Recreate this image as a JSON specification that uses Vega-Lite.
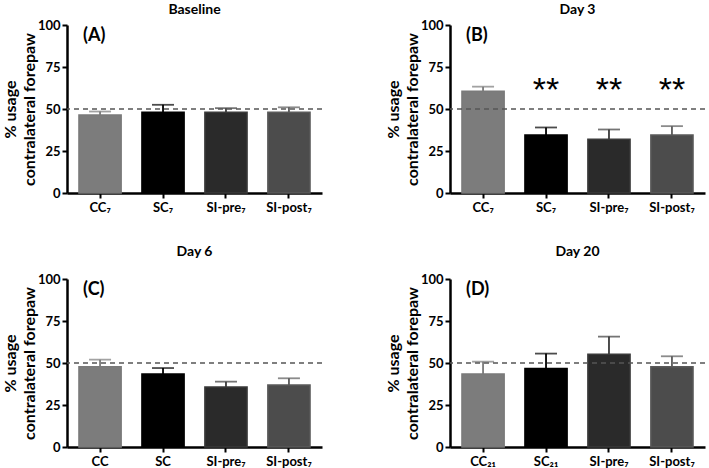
{
  "$schema": "https://vega.github.io/schema/vega-lite/v6.json",
  "padding": {"left": 2, "top": 3, "right": 4, "bottom": 0},
  "background": "white",
  "datasets": {
    "bars": [
      {"panel": "A", "group": "CC₇", "grp": "cc", "mean": 46.5, "upper": 48.5},
      {"panel": "A", "group": "SC₇", "grp": "sc", "mean": 48, "upper": 52.5},
      {"panel": "A", "group": "SI-pre₇", "grp": "pre", "mean": 48, "upper": 50.5},
      {"panel": "A", "group": "SI-post₇", "grp": "post", "mean": 48, "upper": 51},
      {"panel": "B", "group": "CC₇", "grp": "cc", "mean": 60.5, "upper": 63.3},
      {"panel": "B", "group": "SC₇", "grp": "sc", "mean": 34.5, "upper": 39},
      {"panel": "B", "group": "SI-pre₇", "grp": "pre", "mean": 32, "upper": 37.8},
      {"panel": "B", "group": "SI-post₇", "grp": "post", "mean": 34.5, "upper": 39.8},
      {"panel": "C", "group": "CC", "grp": "cc", "mean": 47.8, "upper": 52},
      {"panel": "C", "group": "SC", "grp": "sc", "mean": 43.5, "upper": 47},
      {"panel": "C", "group": "SI-pre₇", "grp": "pre", "mean": 35.7, "upper": 38.9},
      {"panel": "C", "group": "SI-post₇", "grp": "post", "mean": 36.9, "upper": 40.9},
      {"panel": "D", "group": "CC₂₁", "grp": "cc", "mean": 43.5, "upper": 50.8},
      {"panel": "D", "group": "SC₂₁", "grp": "sc", "mean": 46.8, "upper": 55.6},
      {"panel": "D", "group": "SI-pre₇", "grp": "pre", "mean": 55.2, "upper": 65.7},
      {"panel": "D", "group": "SI-post₇", "grp": "post", "mean": 47.8, "upper": 54}
    ],
    "stars": [
      {"panel": "B", "group": "SC₇", "sig": "**"},
      {"panel": "B", "group": "SI-pre₇", "sig": "**"},
      {"panel": "B", "group": "SI-post₇", "sig": "**"}
    ]
  },
  "config": {
    "font": "Lato",
    "view": {"stroke": null},
    "axis": {
      "grid": false,
      "domainColor": "black",
      "domainWidth": 2.5,
      "tickColor": "black",
      "tickWidth": 2,
      "tickSize": 5,
      "labelFont": "Lato",
      "labelFontWeight": "bold",
      "labelColor": "black",
      "titleFont": "Lato",
      "titleFontWeight": "bold",
      "titleColor": "black"
    },
    "axisX": {"labelFontSize": 13, "labelPadding": 3, "labelAngle": 0, "title": null},
    "axisY": {"labelFontSize": 13, "labelPadding": 2, "titleFontSize": 16, "titleLineHeight": 19, "titlePadding": 0},
    "bar": {"strokeWidth": 1.5},
    "title": {"font": "Lato", "fontSize": 14, "fontWeight": "bold", "color": "black"},
    "scale": {"bandPaddingInner": 0.33, "bandPaddingOuter": 0.19}
  },
  "spacing": {"row": 31, "column": 62},
  "columns": 2,
  "concat": [
    {
      "width": 255, "height": 168,
      "title": {"text": "Baseline", "offset": 2},
      "layer": [
        {"data": {"name": "bars"}, "transform": [{"filter": "datum.panel === 'A'"}],
         "mark": {"type": "rule", "strokeWidth": 1.8},
         "encoding": {
           "x": {"field": "group", "type": "nominal", "sort": ["CC₇", "SC₇", "SI-pre₇", "SI-post₇"]},
           "y": {"field": "mean", "type": "quantitative"}, "y2": {"field": "upper"},
           "stroke": {"field": "grp", "type": "nominal", "legend": null, "scale": {"domain": ["cc","sc","pre","post"], "range": ["#7a7a7a","#000000","#3a3a3a","#5a5a5a"]}}}},
        {"data": {"name": "bars"}, "transform": [{"filter": "datum.panel === 'A'"}],
         "mark": {"type": "tick", "thickness": 1.8, "size": 22},
         "encoding": {
           "x": {"field": "group", "type": "nominal", "sort": ["CC₇", "SC₇", "SI-pre₇", "SI-post₇"]},
           "y": {"field": "upper", "type": "quantitative"},
           "color": {"field": "grp", "type": "nominal", "legend": null, "scale": {"domain": ["cc","sc","pre","post"], "range": ["#7a7a7a","#000000","#3a3a3a","#5a5a5a"]}}}},
        {"data": {"name": "bars"}, "transform": [{"filter": "datum.panel === 'A'"}],
         "mark": {"type": "bar"},
         "encoding": {
           "x": {"field": "group", "type": "nominal", "sort": ["CC₇", "SC₇", "SI-pre₇", "SI-post₇"]},
           "y": {"field": "mean", "type": "quantitative", "scale": {"domain": [0, 100], "nice": false},
                 "axis": {"values": [0, 25, 50, 75, 100], "title": ["% usage", "contralateral forepaw"]}},
           "fill": {"field": "grp", "type": "nominal", "legend": null, "scale": {"domain": ["cc","sc","pre","post"], "range": ["#7c7c7c","#000000","#2a2a2a","#4c4c4c"]}},
           "stroke": {"field": "grp", "type": "nominal", "legend": null}}},
        {"data": {"values": [{}]},
         "mark": {"type": "rule", "strokeDash": [5, 4], "color": "#555555", "strokeWidth": 1.3},
         "encoding": {"y": {"datum": 50}}},
        {"data": {"values": [{}]},
         "mark": {"type": "text", "align": "left", "baseline": "middle", "fontSize": 18, "fontWeight": "bold", "dx": -17, "color": "black"},
         "encoding": {"x": {"datum": "CC₇"}, "y": {"datum": 93.5}, "text": {"value": "(A)"}}}
      ]
    },
    {
      "width": 255, "height": 168,
      "title": {"text": "Day 3", "offset": 2},
      "layer": [
        {"data": {"name": "bars"}, "transform": [{"filter": "datum.panel === 'B'"}],
         "mark": {"type": "rule", "strokeWidth": 1.8},
         "encoding": {
           "x": {"field": "group", "type": "nominal", "sort": ["CC₇", "SC₇", "SI-pre₇", "SI-post₇"]},
           "y": {"field": "mean", "type": "quantitative"}, "y2": {"field": "upper"},
           "stroke": {"field": "grp", "type": "nominal", "legend": null, "scale": {"domain": ["cc","sc","pre","post"], "range": ["#7a7a7a","#000000","#3a3a3a","#5a5a5a"]}}}},
        {"data": {"name": "bars"}, "transform": [{"filter": "datum.panel === 'B'"}],
         "mark": {"type": "tick", "thickness": 1.8, "size": 22},
         "encoding": {
           "x": {"field": "group", "type": "nominal", "sort": ["CC₇", "SC₇", "SI-pre₇", "SI-post₇"]},
           "y": {"field": "upper", "type": "quantitative"},
           "color": {"field": "grp", "type": "nominal", "legend": null, "scale": {"domain": ["cc","sc","pre","post"], "range": ["#7a7a7a","#000000","#3a3a3a","#5a5a5a"]}}}},
        {"data": {"name": "bars"}, "transform": [{"filter": "datum.panel === 'B'"}],
         "mark": {"type": "bar"},
         "encoding": {
           "x": {"field": "group", "type": "nominal", "sort": ["CC₇", "SC₇", "SI-pre₇", "SI-post₇"]},
           "y": {"field": "mean", "type": "quantitative", "scale": {"domain": [0, 100], "nice": false},
                 "axis": {"values": [0, 25, 50, 75, 100], "title": ["% usage", "contralateral forepaw"]}},
           "fill": {"field": "grp", "type": "nominal", "legend": null, "scale": {"domain": ["cc","sc","pre","post"], "range": ["#7c7c7c","#000000","#2a2a2a","#4c4c4c"]}},
           "stroke": {"field": "grp", "type": "nominal", "legend": null}}},
        {"data": {"values": [{}]},
         "mark": {"type": "rule", "strokeDash": [5, 4], "color": "#555555", "strokeWidth": 1.3},
         "encoding": {"y": {"datum": 50}}},
        {"data": {"name": "stars"},
         "mark": {"type": "text", "align": "center", "baseline": "alphabetic", "fontSize": 34, "font": "Liberation Sans", "color": "black"},
         "encoding": {
           "x": {"field": "group", "type": "nominal", "sort": ["CC₇", "SC₇", "SI-pre₇", "SI-post₇"]},
           "y": {"datum": 55}, "text": {"field": "sig"}}},
        {"data": {"values": [{}]},
         "mark": {"type": "text", "align": "left", "baseline": "middle", "fontSize": 18, "fontWeight": "bold", "dx": -17, "color": "black"},
         "encoding": {"x": {"datum": "CC₇"}, "y": {"datum": 93.5}, "text": {"value": "(B)"}}}
      ]
    },
    {
      "width": 255, "height": 168,
      "title": {"text": "Day 6", "offset": 14},
      "layer": [
        {"data": {"name": "bars"}, "transform": [{"filter": "datum.panel === 'C'"}],
         "mark": {"type": "rule", "strokeWidth": 1.8},
         "encoding": {
           "x": {"field": "group", "type": "nominal", "sort": ["CC", "SC", "SI-pre₇", "SI-post₇"]},
           "y": {"field": "mean", "type": "quantitative"}, "y2": {"field": "upper"},
           "stroke": {"field": "grp", "type": "nominal", "legend": null, "scale": {"domain": ["cc","sc","pre","post"], "range": ["#7a7a7a","#000000","#3a3a3a","#5a5a5a"]}}}},
        {"data": {"name": "bars"}, "transform": [{"filter": "datum.panel === 'C'"}],
         "mark": {"type": "tick", "thickness": 1.8, "size": 22},
         "encoding": {
           "x": {"field": "group", "type": "nominal", "sort": ["CC", "SC", "SI-pre₇", "SI-post₇"]},
           "y": {"field": "upper", "type": "quantitative"},
           "color": {"field": "grp", "type": "nominal", "legend": null, "scale": {"domain": ["cc","sc","pre","post"], "range": ["#7a7a7a","#000000","#3a3a3a","#5a5a5a"]}}}},
        {"data": {"name": "bars"}, "transform": [{"filter": "datum.panel === 'C'"}],
         "mark": {"type": "bar"},
         "encoding": {
           "x": {"field": "group", "type": "nominal", "sort": ["CC", "SC", "SI-pre₇", "SI-post₇"]},
           "y": {"field": "mean", "type": "quantitative", "scale": {"domain": [0, 100], "nice": false},
                 "axis": {"values": [0, 25, 50, 75, 100], "title": ["% usage", "contralateral forepaw"]}},
           "fill": {"field": "grp", "type": "nominal", "legend": null, "scale": {"domain": ["cc","sc","pre","post"], "range": ["#7c7c7c","#000000","#2a2a2a","#4c4c4c"]}},
           "stroke": {"field": "grp", "type": "nominal", "legend": null}}},
        {"data": {"values": [{}]},
         "mark": {"type": "rule", "strokeDash": [5, 4], "color": "#555555", "strokeWidth": 1.3},
         "encoding": {"y": {"datum": 50}}},
        {"data": {"values": [{}]},
         "mark": {"type": "text", "align": "left", "baseline": "middle", "fontSize": 18, "fontWeight": "bold", "dx": -17, "color": "black"},
         "encoding": {"x": {"datum": "CC"}, "y": {"datum": 93.5}, "text": {"value": "(C)"}}}
      ]
    },
    {
      "width": 255, "height": 168,
      "title": {"text": "Day 20", "offset": 14},
      "layer": [
        {"data": {"name": "bars"}, "transform": [{"filter": "datum.panel === 'D'"}],
         "mark": {"type": "rule", "strokeWidth": 1.8},
         "encoding": {
           "x": {"field": "group", "type": "nominal", "sort": ["CC₂₁", "SC₂₁", "SI-pre₇", "SI-post₇"]},
           "y": {"field": "mean", "type": "quantitative"}, "y2": {"field": "upper"},
           "stroke": {"field": "grp", "type": "nominal", "legend": null, "scale": {"domain": ["cc","sc","pre","post"], "range": ["#7a7a7a","#000000","#3a3a3a","#5a5a5a"]}}}},
        {"data": {"name": "bars"}, "transform": [{"filter": "datum.panel === 'D'"}],
         "mark": {"type": "tick", "thickness": 1.8, "size": 22},
         "encoding": {
           "x": {"field": "group", "type": "nominal", "sort": ["CC₂₁", "SC₂₁", "SI-pre₇", "SI-post₇"]},
           "y": {"field": "upper", "type": "quantitative"},
           "color": {"field": "grp", "type": "nominal", "legend": null, "scale": {"domain": ["cc","sc","pre","post"], "range": ["#7a7a7a","#000000","#3a3a3a","#5a5a5a"]}}}},
        {"data": {"name": "bars"}, "transform": [{"filter": "datum.panel === 'D'"}],
         "mark": {"type": "bar"},
         "encoding": {
           "x": {"field": "group", "type": "nominal", "sort": ["CC₂₁", "SC₂₁", "SI-pre₇", "SI-post₇"]},
           "y": {"field": "mean", "type": "quantitative", "scale": {"domain": [0, 100], "nice": false},
                 "axis": {"values": [0, 25, 50, 75, 100], "title": ["% usage", "contralateral forepaw"]}},
           "fill": {"field": "grp", "type": "nominal", "legend": null, "scale": {"domain": ["cc","sc","pre","post"], "range": ["#7c7c7c","#000000","#2a2a2a","#4c4c4c"]}},
           "stroke": {"field": "grp", "type": "nominal", "legend": null}}},
        {"data": {"values": [{}]},
         "mark": {"type": "rule", "strokeDash": [5, 4], "color": "#555555", "strokeWidth": 1.3},
         "encoding": {"y": {"datum": 50}}},
        {"data": {"values": [{}]},
         "mark": {"type": "text", "align": "left", "baseline": "middle", "fontSize": 18, "fontWeight": "bold", "dx": -17, "color": "black"},
         "encoding": {"x": {"datum": "CC₂₁"}, "y": {"datum": 93.5}, "text": {"value": "(D)"}}}
      ]
    }
  ]
}
